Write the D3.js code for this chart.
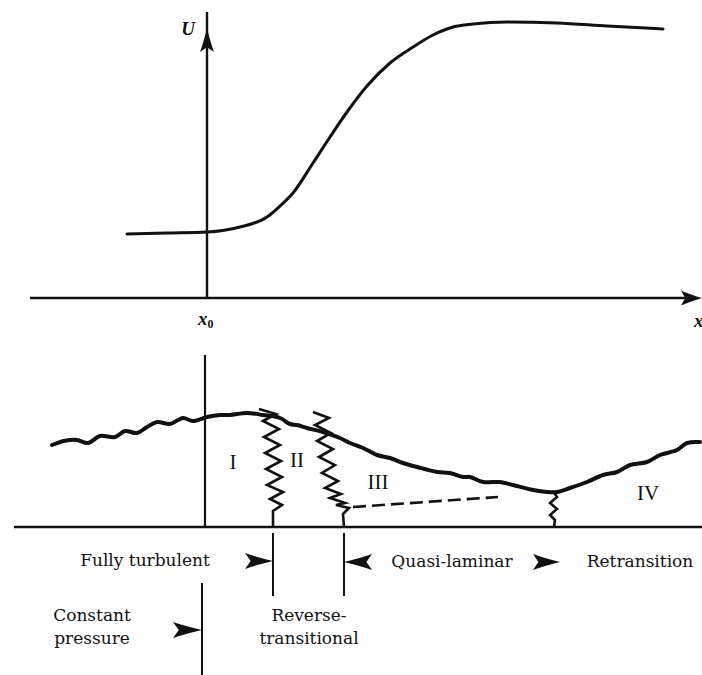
<!DOCTYPE html>
<html>
<head>
<meta charset="utf-8">
<script src="https://cdn.jsdelivr.net/npm/d3@7/dist/d3.min.js"></script>
<style>
  html, body { margin: 0; padding: 0; background: #fff; }
  svg { display: block; }
</style>
</head>
<body>
<svg id="chart" width="702" height="675"></svg>
<script>
// ---------------- DATA ----------------
// streamwise distance x (x0 = 0), free-stream velocity U
const uCurve = [
  [-8.0, 6.4], [-4.0, 6.5], [0.0, 6.6], [3.3, 7.1], [6.0, 8.1], [7.3, 9.2],
  [8.6, 10.5], [10.6, 13.5], [12.3, 16.1], [14.0, 18.6], [16.0, 21.2],
  [18.3, 23.5], [20.6, 25.1], [22.6, 26.3], [24.6, 27.1], [26.6, 27.4],
  [30.0, 27.6], [35.0, 27.5], [40.0, 27.2], [45.6, 26.9]
];
// boundary-layer edge (thickness delta) with its turbulent wrinkles
const boundaryLayer = [
  [-15.5, 8.2], [-14.3, 8.6], [-13.0, 8.7], [-11.9, 8.4], [-10.7, 9.1], [-9.2, 9.0],
  [-8.2, 9.6], [-7.0, 9.4], [-6.0, 10.0], [-5.0, 10.5], [-3.7, 10.3], [-2.4, 10.9],
  [-1.4, 10.6], [0.0, 11.0], [1.3, 11.2], [2.3, 11.2], [4.0, 11.4], [5.6, 11.2],
  [7.3, 10.9], [8.3, 10.3], [9.0, 10.2], [10.0, 9.9], [11.6, 9.5], [13.3, 8.9],
  [14.3, 8.4], [15.6, 7.9], [17.0, 7.2], [18.3, 6.9], [19.6, 6.4], [21.0, 6.0],
  [23.0, 5.5], [24.3, 5.4], [25.6, 5.0], [26.3, 5.0], [27.6, 4.5], [29.3, 4.5],
  [30.6, 4.2], [32.6, 3.7], [34.0, 3.5], [35.0, 3.5], [36.3, 3.9], [38.0, 4.5],
  [39.6, 5.2], [41.0, 5.5], [42.3, 6.2], [44.0, 6.5], [45.3, 7.2], [47.0, 7.7],
  [48.0, 8.4], [49.3, 8.5]
];
// zig-zag interfaces
const zigzag1 = [
  [5.2, 11.8], [6.9, 11.3], [5.6, 10.6], [7.2, 9.8], [5.7, 9.0], [7.3, 8.2],
  [5.8, 7.4], [7.4, 6.6], [5.9, 5.8], [7.5, 5.0], [6.0, 4.2], [7.6, 3.5],
  [6.3, 2.8], [7.5, 2.2], [6.6, 1.6], [6.6, 0.0]
];
const zigzag2 = [
  [10.6, 11.5], [12.2, 10.9], [10.8, 10.2], [12.4, 9.4], [11.0, 8.6], [12.6, 7.8],
  [11.2, 7.0], [12.8, 6.2], [11.5, 5.4], [13.1, 4.6], [11.8, 3.9], [13.4, 3.3],
  [12.3, 2.9], [13.8, 2.4], [12.9, 2.2], [14.2, 1.9], [13.6, 1.3], [13.7, 0.0]
];
const zigzag3 = [
  [34.6, 3.6], [35.0, 3.0], [34.3, 2.4], [35.0, 1.8], [34.3, 1.2], [34.8, 0.7], [34.7, 0.0]
];
const dashedLine = [[14.6, 2.0], [29.1, 3.0]];
const regionLabels = [
  { text: "I",   x: 2.6,  d: 6.5 },
  { text: "II",  x: 9.0,  d: 6.7 },
  { text: "III", x: 17.1, d: 4.5 },
  { text: "IV",  x: 44.1, d: 3.4 }
];
// stations dividing the flow regimes
const stations = { x0: 0, reverseStart: 6.6, quasiStart: 13.7 };
const zoneNames = ["Fully turbulent", "Quasi-laminar", "Retransition", "Constant", "pressure", "Reverse-", "transitional"];

// ---------------- SCALES ----------------
const svg = d3.select("#chart");
const x = d3.scaleLinear().domain([-17.7, 49.3]).range([30, 700]);
const yTop = d3.scaleLinear().domain([0, 28.6]).range([298, 12]);
const yBot = d3.scaleLinear().domain([0, 17.2]).range([527, 355]);
const ink = "#111";

function arrowHead(tx, ty, dx, dy, len, half) {
  const px = -dy, py = dx;
  const bx = tx - dx * len, by = ty - dy * len;
  const nx = tx - dx * len * 0.8, ny = ty - dy * len * 0.8;
  const c1x = tx - dx * len * 0.6 + px * half * 0.5, c1y = ty - dy * len * 0.6 + py * half * 0.5;
  const c2x = tx - dx * len * 0.6 - px * half * 0.5, c2y = ty - dy * len * 0.6 - py * half * 0.5;
  return `M${tx},${ty} Q${c1x},${c1y} ${bx + px * half},${by + py * half} L${nx},${ny} L${bx - px * half},${by - py * half} Q${c2x},${c2y} ${tx},${ty} Z`;
}

// ---------------- TOP PANEL ----------------
const gTop = svg.append("g");
gTop.append("line").attr("x1", x(-17.7)).attr("x2", x(49.3) - 4)
  .attr("y1", yTop(0)).attr("y2", yTop(0)).attr("stroke", ink).attr("stroke-width", 2.6);
gTop.append("path").attr("d", arrowHead(x(49.3) + 2, yTop(0), 1, 0, 21, 7.5)).attr("fill", ink);
gTop.append("line").attr("x1", x(0)).attr("x2", x(0))
  .attr("y1", yTop(0)).attr("y2", yTop(28.6)).attr("stroke", ink).attr("stroke-width", 2.4);
gTop.append("path").attr("d", arrowHead(x(0), yTop(27.0), 0, -1, 24, 7)).attr("fill", ink);

gTop.append("path").datum(uCurve)
  .attr("d", d3.line().x(d => x(d[0])).y(d => yTop(d[1])).curve(d3.curveMonotoneX))
  .attr("fill", "none").attr("stroke", ink).attr("stroke-width", 3).attr("stroke-linecap", "round");

gTop.append("text").attr("x", 188).attr("y", 35).attr("text-anchor", "middle")
  .attr("font-family", "Liberation Serif").attr("font-style", "italic").attr("font-weight", "bold")
  .attr("font-size", 19).attr("fill", ink).text("U");
const x0t = gTop.append("text").attr("x", x(0) - 9).attr("y", 325)
  .attr("font-family", "Liberation Serif").attr("font-style", "italic").attr("font-weight", "bold")
  .attr("font-size", 19).attr("fill", ink);
x0t.append("tspan").text("x");
x0t.append("tspan").attr("dy", 3).attr("font-size", 12).attr("font-style", "normal").text("0");
gTop.append("text").attr("x", 694).attr("y", 327)
  .attr("font-family", "Liberation Serif").attr("font-style", "italic").attr("font-weight", "bold")
  .attr("font-size", 19).attr("fill", ink).text("x");

// ---------------- BOTTOM PANEL ----------------
const gBot = svg.append("g");
gBot.append("line").attr("x1", 14).attr("x2", 702).attr("y1", yBot(0)).attr("y2", yBot(0))
  .attr("stroke", ink).attr("stroke-width", 2.6);
gBot.append("line").attr("x1", x(stations.x0) - 2).attr("x2", x(stations.x0) - 2)
  .attr("y1", yBot(17.2)).attr("y2", yBot(0)).attr("stroke", ink).attr("stroke-width", 2.2);

const lineB = d3.line().x(d => x(d[0])).y(d => yBot(d[1])).curve(d3.curveCatmullRom.alpha(0.5));
gBot.append("path").datum(boundaryLayer).attr("d", lineB)
  .attr("fill", "none").attr("stroke", ink).attr("stroke-width", 4)
  .attr("stroke-linecap", "round").attr("stroke-linejoin", "round");

const lineZ = d3.line().x(d => x(d[0])).y(d => yBot(d[1])).curve(d3.curveLinear);
[zigzag1, zigzag2, zigzag3].forEach(z => {
  gBot.append("path").datum(z).attr("d", lineZ)
    .attr("fill", "none").attr("stroke", ink).attr("stroke-width", 2.6).attr("stroke-linejoin", "miter");
});
gBot.append("path").datum(dashedLine).attr("d", lineZ)
  .attr("fill", "none").attr("stroke", ink).attr("stroke-width", 2.6).attr("stroke-dasharray", "13,6");

gBot.selectAll("text.region").data(regionLabels).enter().append("text")
  .attr("class", "region").attr("x", d => x(d.x)).attr("y", d => yBot(d.d) + 7)
  .attr("text-anchor", "middle").attr("font-family", "Liberation Serif").attr("font-size", 21)
  .attr("fill", ink).text(d => d.text);

// regime markers below the wall
const gZ = svg.append("g");
[stations.reverseStart, stations.quasiStart].forEach(s => {
  gZ.append("line").attr("x1", x(s)).attr("x2", x(s)).attr("y1", 533).attr("y2", 596)
    .attr("stroke", ink).attr("stroke-width", 2);
});
gZ.append("line").attr("x1", x(stations.x0) - 5).attr("x2", x(stations.x0) - 5).attr("y1", 583).attr("y2", 675)
  .attr("stroke", ink).attr("stroke-width", 2);

gZ.append("path").attr("d", arrowHead(x(stations.reverseStart), 561, 1, 0, 28, 8)).attr("fill", ink);
gZ.append("path").attr("d", arrowHead(x(stations.quasiStart), 562, -1, 0, 28, 8)).attr("fill", ink);
gZ.append("path").attr("d", arrowHead(560, 562, 1, 0, 27, 8)).attr("fill", ink);
gZ.append("path").attr("d", arrowHead(x(stations.x0) - 5, 630, 1, 0, 29, 8)).attr("fill", ink);

const tstyle = s => s.attr("font-family", "DejaVu Serif").attr("font-size", 17).attr("fill", ink).attr("text-anchor", "middle");
gZ.append("text").attr("x", 145).attr("y", 566).text(zoneNames[0]).call(tstyle);
gZ.append("text").attr("x", 452).attr("y", 567).text(zoneNames[1]).call(tstyle);
gZ.append("text").attr("x", 640).attr("y", 567).text(zoneNames[2]).call(tstyle);
gZ.append("text").attr("x", 92).attr("y", 621).text(zoneNames[3]).call(tstyle);
gZ.append("text").attr("x", 92).attr("y", 644).text(zoneNames[4]).call(tstyle);
gZ.append("text").attr("x", 309).attr("y", 621).text(zoneNames[5]).call(tstyle);
gZ.append("text").attr("x", 309).attr("y", 644).text(zoneNames[6]).call(tstyle);
</script>
</body>
</html>
